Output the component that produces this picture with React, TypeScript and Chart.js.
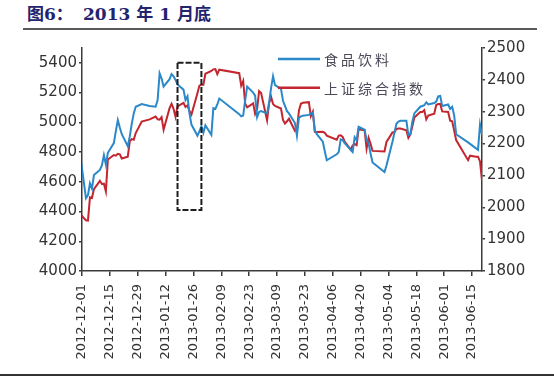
import React, { useEffect, useRef } from 'react';
import { Chart, registerables } from 'chart.js';

Chart.register(...registerables);

const seriesNames = ['食品饮料', '上证综合指数'];
const seriesColors = ['#2b88c9', '#c3262e'];

const tradeDates = [
  '2012-11-30', '2012-12-03', '2012-12-04', '2012-12-05', '2012-12-06', '2012-12-07',
  '2012-12-10', '2012-12-11', '2012-12-12', '2012-12-13', '2012-12-14',
  '2012-12-17', '2012-12-18', '2012-12-19', '2012-12-20', '2012-12-21',
  '2012-12-24', '2012-12-25', '2012-12-26', '2012-12-27', '2012-12-28', '2012-12-31',
  '2013-01-04', '2013-01-07', '2013-01-08', '2013-01-09', '2013-01-10', '2013-01-11',
  '2013-01-14', '2013-01-15', '2013-01-16', '2013-01-17', '2013-01-18',
  '2013-01-21', '2013-01-22', '2013-01-23', '2013-01-24', '2013-01-25',
  '2013-01-28', '2013-01-29', '2013-01-30', '2013-01-31', '2013-02-01',
  '2013-02-04', '2013-02-05', '2013-02-06', '2013-02-07', '2013-02-08',
  '2013-02-18', '2013-02-19', '2013-02-20', '2013-02-21', '2013-02-22',
  '2013-02-25', '2013-02-26', '2013-02-27', '2013-02-28', '2013-03-01',
  '2013-03-04', '2013-03-05', '2013-03-06', '2013-03-07', '2013-03-08',
  '2013-03-11', '2013-03-12', '2013-03-13', '2013-03-14', '2013-03-15',
  '2013-03-18', '2013-03-19', '2013-03-20', '2013-03-21', '2013-03-22',
  '2013-03-25', '2013-03-26', '2013-03-27', '2013-03-28', '2013-03-29',
  '2013-04-01', '2013-04-02', '2013-04-03',
  '2013-04-08', '2013-04-09', '2013-04-10', '2013-04-11', '2013-04-12',
  '2013-04-15', '2013-04-16', '2013-04-17', '2013-04-18', '2013-04-19',
  '2013-04-22', '2013-04-23', '2013-04-24', '2013-04-25', '2013-04-26',
  '2013-05-02', '2013-05-03',
  '2013-05-06', '2013-05-07', '2013-05-08', '2013-05-09', '2013-05-10',
  '2013-05-13', '2013-05-14', '2013-05-15', '2013-05-16', '2013-05-17',
  '2013-05-20', '2013-05-21', '2013-05-22', '2013-05-23', '2013-05-24',
  '2013-05-27', '2013-05-28', '2013-05-29', '2013-05-30', '2013-05-31',
  '2013-06-03', '2013-06-04', '2013-06-05', '2013-06-06', '2013-06-07',
  '2013-06-13', '2013-06-14',
  '2013-06-17', '2013-06-18', '2013-06-19', '2013-06-20',
];

// 食品饮料 (left axis)
const foodBeverage = [
  4790, 4490, 4510, 4590, 4555, 4645,
  4680, 4710, 4780, 4715, 4795,
  4860, 4940, 5015, 4965, 4920,
  4840, 4905, 4990, 5060, 5105, 5123,
  5110, 5105, 5150, 5330, 5295, 5240,
  5290, 5325, 5310, 5285, 5255,
  5220, 5150, 5175, 5060, 4985,
  4910, 4940, 4975, 4930, 4980,
  4915, 5095, 5090, 5120, 5160,
  5055, 5040, 5045, 5150, 5240,
  5200, 5180, 5035, 5070, 5075,
  5060, 5130, 5230, 5310, 5250,
  5225, 5145, 5110, 5075, 5060,
  4995, 4910, 5030, 5040, 5045,
  5050, 5060, 5065, 4945, 4920,
  4870, 4805, 4745,
  4785, 4800, 4885, 4880, 4860,
  4815, 4800, 4900, 4880, 4970,
  4950, 4880, 4860, 4790, 4730,
  4665, 4710,
  4870, 4930, 4990, 5005, 5010,
  5010, 4915, 4920, 5005, 5060,
  5105, 5110, 5115, 5135, 5120,
  5130, 5140, 5175, 5178, 5110,
  5120, 5090, 5105, 5050, 4920,
  4865, 4855,
  4825, 4815, 4985, 4915,
];

// 上证综合指数 (right axis)
const shanghaiComposite = [
  1980, 1959, 1958, 2031, 2029, 2057,
  2083, 2073, 2074, 2050, 2150,
  2164, 2162, 2168, 2166, 2153,
  2159, 2207, 2214, 2212, 2233, 2269,
  2276, 2285, 2276, 2275, 2283, 2243,
  2311, 2325, 2309, 2284, 2317,
  2328, 2315, 2320, 2302, 2291,
  2358, 2382, 2385, 2385, 2419,
  2428, 2433, 2434, 2418, 2432,
  2421, 2382, 2397, 2325, 2314,
  2326, 2293, 2309, 2365, 2359,
  2273, 2326, 2347, 2324, 2318,
  2310, 2274, 2263, 2270, 2278,
  2240, 2245, 2303, 2325, 2328,
  2330, 2286, 2300, 2237, 2236,
  2237, 2234, 2225,
  2212, 2225, 2226, 2221, 2206,
  2181, 2194, 2198, 2195, 2245,
  2242, 2184, 2218, 2199, 2177,
  2175, 2205,
  2235, 2236, 2246, 2247, 2247,
  2242, 2218, 2229, 2254, 2282,
  2299, 2299, 2305, 2276, 2288,
  2294, 2321, 2324, 2324, 2301,
  2299, 2272, 2270, 2242, 2211,
  2148, 2162,
  2159, 2159, 2144, 2084,
];

const xTickDates = [
  '2012-12-01', '2012-12-15', '2012-12-29', '2013-01-12', '2013-01-26',
  '2013-02-09', '2013-02-23', '2013-03-09', '2013-03-23', '2013-04-06',
  '2013-04-20', '2013-05-04', '2013-05-18', '2013-06-01', '2013-06-15',
];
const xRange = ['2012-12-01', '2013-06-20'];
const leftTicks = [4000, 4200, 4400, 4600, 4800, 5000, 5200, 5400];
const leftRange = [4000, 5500];
const rightTicks = [1800, 1900, 2000, 2100, 2200, 2300, 2400, 2500];
const rightRange = [1800, 2500];

// highlighted window (dashed box), in data units
const boxDates = ['2013-01-18', '2013-01-30'];
const boxValues = [4410, 5400];

const DAY = 86400000;
const ORIGIN = Date.parse(xRange[0]);
const dayOf = (d: string) => (Date.parse(d) - ORIGIN) / DAY;
const pad2 = (n: number) => (n < 10 ? '0' + n : '' + n);
const fmtDay = (v: number) => {
  const dt = new Date(ORIGIN + Math.round(v) * DAY);
  return dt.getUTCFullYear() + '-' + pad2(dt.getUTCMonth() + 1) + '-' + pad2(dt.getUTCDate());
};

const axisColor = '#3a3a3a';
const tickColor = '#333333';

const boxPlugin = {
  id: 'dashedBox',
  afterDatasetsDraw(chart: any) {
    const { ctx } = chart;
    const xs = chart.scales.x;
    const ys = chart.scales.y;
    const x0 = xs.getPixelForValue(dayOf(boxDates[0]));
    const x1 = xs.getPixelForValue(dayOf(boxDates[1]));
    const y0 = ys.getPixelForValue(boxValues[1]);
    const y1 = ys.getPixelForValue(boxValues[0]);
    ctx.save();
    ctx.setLineDash([6, 2]);
    ctx.lineWidth = 2;
    ctx.strokeStyle = '#1e1e1e';
    ctx.strokeRect(x0, y0, x1 - x0, y1 - y0);
    ctx.restore();
  },
};

const legendPlugin = {
  id: 'insideLegend',
  afterDraw(chart: any) {
    const { ctx, chartArea } = chart;
    chart.data.datasets.forEach((ds: any, i: number) => {
      const y = chartArea.top + 11 + i * 28.7;
      const x0 = chartArea.left + 196;
      ctx.save();
      ctx.strokeStyle = ds.borderColor;
      ctx.lineWidth = 2.5;
      ctx.beginPath();
      ctx.moveTo(x0, y);
      ctx.lineTo(x0 + 42, y);
      ctx.stroke();
      ctx.font = '14px "Noto Sans CJK SC"';
      ctx.fillStyle = '#4a4a58';
      ctx.textBaseline = 'middle';
      ctx.textAlign = 'left';
      try { (ctx as any).letterSpacing = '3px'; } catch (e) {}
      ctx.fillText(ds.label, x0 + 46, y + 1);
      ctx.restore();
    });
  },
};

export default function App() {
  const ref = useRef<HTMLCanvasElement | null>(null);

  useEffect(() => {
    if (!ref.current) return;
    const chart = new Chart(ref.current, {
      type: 'line',
      data: {
        datasets: [
          {
            label: seriesNames[0],
            data: tradeDates.map((d, i) => ({ x: dayOf(d), y: foodBeverage[i] })),
            borderColor: seriesColors[0],
            backgroundColor: seriesColors[0],
            borderWidth: 2,
            pointRadius: 0,
            tension: 0,
            yAxisID: 'y',
          },
          {
            label: seriesNames[1],
            data: tradeDates.map((d, i) => ({ x: dayOf(d), y: shanghaiComposite[i] })),
            borderColor: seriesColors[1],
            backgroundColor: seriesColors[1],
            borderWidth: 2,
            pointRadius: 0,
            tension: 0,
            yAxisID: 'y1',
          },
        ],
      },
      options: {
        responsive: false,
        animation: false,
        devicePixelRatio: 1,
        layout: { padding: { top: 18, left: 0, right: 0, bottom: 0 } },
        plugins: {
          legend: { display: false },
          tooltip: { enabled: false },
          title: { display: false },
        },
        scales: {
          x: {
            type: 'linear',
            min: dayOf(xRange[0]),
            max: dayOf(xRange[1]),
            afterBuildTicks: (s: any) => {
              s.ticks = xTickDates.map((d) => ({ value: dayOf(d) }));
            },
            afterFit: (s: any) => {
              s.height = 104;
            },
            ticks: {
              autoSkip: false,
              maxRotation: 90,
              minRotation: 90,
              padding: 8,
              color: tickColor,
              font: { family: '"DejaVu Sans"', size: 13 },
              callback: (v: any) => fmtDay(Number(v)),
            },
            grid: {
              drawOnChartArea: false,
              drawTicks: true,
              tickLength: 5,
              color: axisColor,
              lineWidth: 1.5,
            },
            border: { display: true, color: axisColor, width: 1.5 },
          },
          y: {
            type: 'linear',
            position: 'left',
            min: leftRange[0],
            max: leftRange[1],
            afterBuildTicks: (s: any) => {
              s.ticks = leftTicks.map((v) => ({ value: v }));
            },
            afterFit: (s: any) => {
              s.width = 82;
            },
            ticks: {
              padding: 2,
              color: tickColor,
              font: { family: '"DejaVu Sans"', size: 15 },
              callback: (v: any) => String(v),
            },
            grid: {
              drawOnChartArea: false,
              drawTicks: true,
              tickLength: 3,
              color: axisColor,
              lineWidth: 1.5,
            },
            border: { display: true, color: axisColor, width: 1.5 },
          },
          y1: {
            type: 'linear',
            position: 'right',
            min: rightRange[0],
            max: rightRange[1],
            afterBuildTicks: (s: any) => {
              s.ticks = rightTicks.map((v) => ({ value: v }));
            },
            afterFit: (s: any) => {
              s.width = 72;
            },
            ticks: {
              padding: 2,
              color: tickColor,
              font: { family: '"DejaVu Sans"', size: 15 },
              callback: (v: any) => String(v),
            },
            grid: {
              drawOnChartArea: false,
              drawTicks: true,
              tickLength: 3,
              color: axisColor,
              lineWidth: 1.5,
            },
            border: { display: true, color: axisColor, width: 1.5 },
          },
        },
      },
      plugins: [boxPlugin, legendPlugin],
    } as any);
    return () => chart.destroy();
  }, []);

  const titleFont = '"DejaVu Serif", "Noto Sans CJK SC", serif';
  return (
    <div
      style={{
        position: 'fixed',
        left: 0,
        top: 0,
        width: 554,
        height: 378,
        background: '#ffffff',
        overflow: 'hidden',
      }}
    >
      <span
        style={{
          position: 'absolute',
          left: 27,
          top: 4,
          fontFamily: titleFont,
          fontWeight: 'bold',
          fontSize: 17,
          lineHeight: '20px',
          color: '#23236e',
          whiteSpace: 'nowrap',
        }}
      >
        图6：
      </span>
      <span
        style={{
          position: 'absolute',
          left: 83,
          top: 4,
          fontFamily: titleFont,
          fontWeight: 'bold',
          fontSize: 17,
          lineHeight: '20px',
          color: '#23236e',
          whiteSpace: 'nowrap',
        }}
      >
        2013 年 1 月底
      </span>
      <div
        style={{
          position: 'absolute',
          left: 23,
          top: 28,
          width: 514,
          height: 2,
          background: '#5a5a5a',
        }}
      />
      <canvas
        ref={ref}
        width={554}
        height={345}
        style={{ position: 'absolute', left: 0, top: 30, width: 554, height: 345 }}
      />
      <div
        style={{
          position: 'absolute',
          left: 0,
          top: 374,
          width: 554,
          height: 2,
          background: '#333333',
        }}
      />
    </div>
  );
}
